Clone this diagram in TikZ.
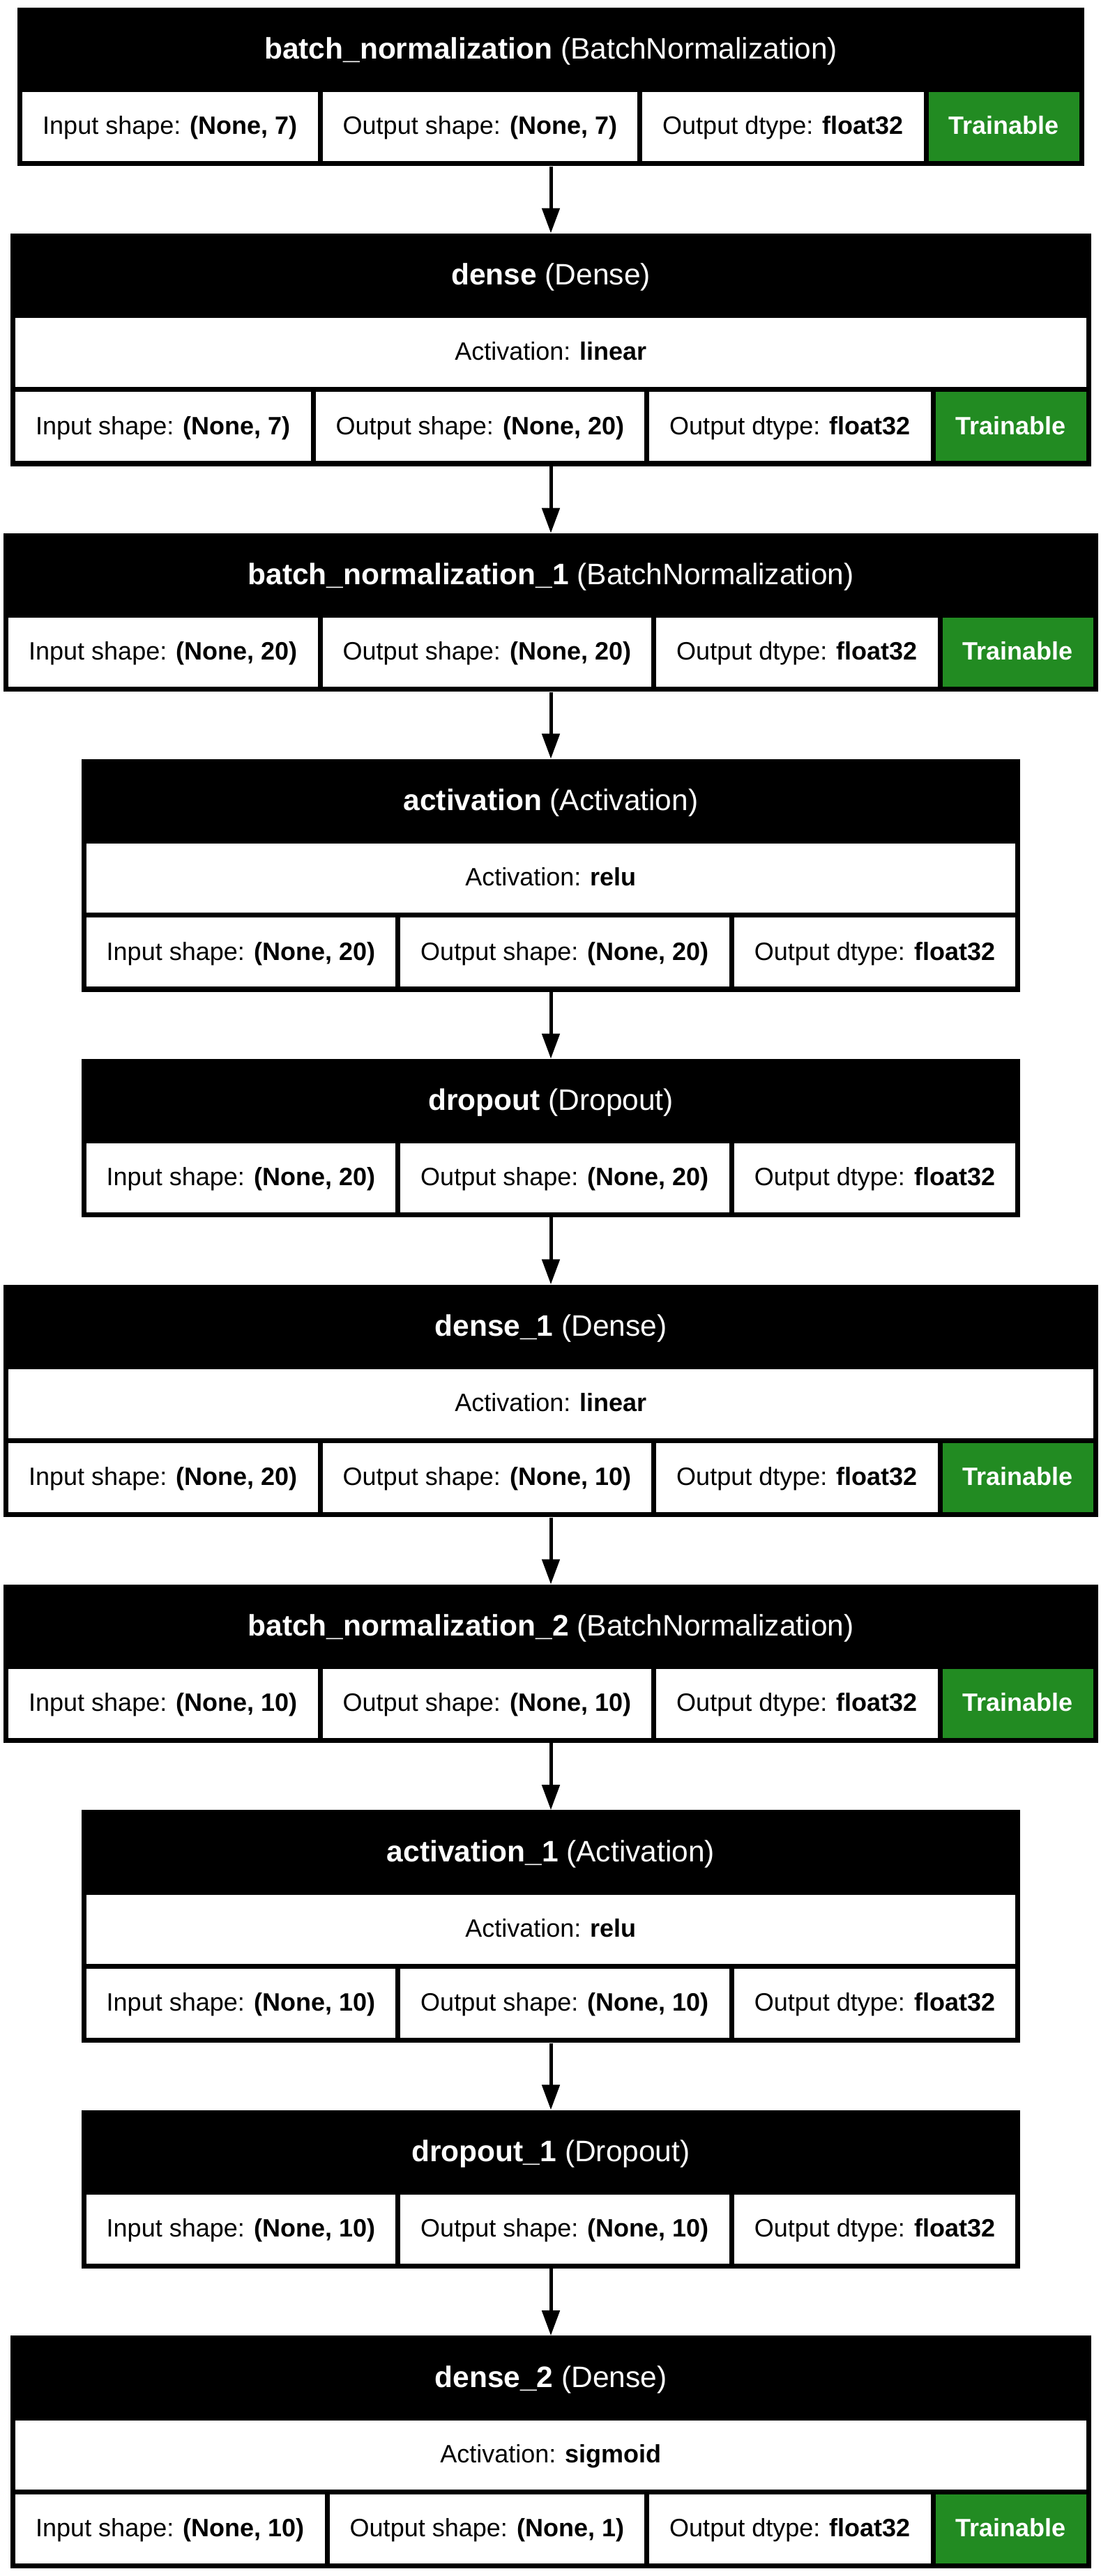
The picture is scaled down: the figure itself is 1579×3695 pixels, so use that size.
\documentclass[tikz,border=0pt]{standalone}
\usepackage{fontspec}
\setmainfont{Liberation Sans}
\usetikzlibrary{arrows.meta,calc,fit,backgrounds}
\definecolor{trainGreen}{RGB}{34,139,34}

\tikzset{
  cellfont/.style={font=\fontsize{36}{43}\selectfont},
  cell/.style={cellfont, fill=white, anchor=center, inner xsep=29pt, inner ysep=0pt,
    minimum height=99pt, text height=26pt, text depth=3.5pt},
  train/.style={cell, fill=trainGreen, text=white, font=\fontsize{36}{43}\selectfont\bfseries},
  cellrow/.style={matrix anchor=north, inner sep=0pt, column sep=7pt},
  frame/.style={fill=black, inner sep=0pt},
  actrow/.style={fill=white, inner sep=0pt},
  actlabel/.style={cellfont, inner sep=0pt, anchor=center, text height=26pt, text depth=3.5pt},
  title/.style={font=\fontsize{42.5}{51}\selectfont, text=white, inner sep=0pt,
    text height=31pt, text depth=5pt},
  flow/.style={line width=5pt, -{Triangle[length=36pt,width=25pt]}},
}

\begin{document}
\begin{tikzpicture}[x=1pt,y=-1pt]
\useasboundingbox (0,0) rectangle (1579,3695);
\begin{scope}[on background layer]
  \fill[white] (0,0) rectangle (1579,3695);
\end{scope}

% ---------- batch_normalization ----------
\matrix (L1r) [cellrow] at (790,132) {
  \node[cell] (L1a) {Input shape: \textbf{(None, 7)}}; &
  \node[cell] (L1b) {Output shape: \textbf{(None, 7)}}; &
  \node[cell] (L1c) {Output dtype: \textbf{float32}}; &
  \node[train] (L1d) {Trainable}; \\
};
\coordinate (L1nw) at ($(L1r.north west)+(-7,-121)$);
\coordinate (L1se) at ($(L1r.south east)+(7,7)$);
\begin{scope}[on background layer]
  \node[frame, fit=(L1nw)(L1se)] (L1) {};
\end{scope}
\node[title] (L1t) at ($(L1r.north)+(0,-60.5)$) {\textbf{batch\_normalization} (BatchNormalization)};

% ---------- dense ----------
\matrix (L2r) [cellrow] at (790,562.2) {
  \node[cell] (L2a) {Input shape: \textbf{(None, 7)}}; &
  \node[cell] (L2b) {Output shape: \textbf{(None, 20)}}; &
  \node[cell] (L2c) {Output dtype: \textbf{float32}}; &
  \node[train] (L2d) {Trainable}; \\
};
\coordinate (L2an) at ($(L2r.north west)+(0,-106)$);
\coordinate (L2as) at ($(L2r.north east)+(0,-7)$);
\node[actrow, fit=(L2an)(L2as)] (L2act) {};
\node[actlabel] (L2al) at ($(L2r.north)+(0,-56.5)$) {Activation: \textbf{linear}};
\coordinate (L2nw) at ($(L2r.north west)+(-7,-227.5)$);
\coordinate (L2se) at ($(L2r.south east)+(7,7)$);
\begin{scope}[on background layer]
  \node[frame, fit=(L2nw)(L2se)] (L2) {};
\end{scope}
\node[title] (L2t) at ($(L2r.north)+(0,-166.75)$) {\textbf{dense} (Dense)};

% ---------- batch_normalization_1 ----------
\matrix (L3r) [cellrow] at (790,885.9) {
  \node[cell] (L3a) {Input shape: \textbf{(None, 20)}}; &
  \node[cell] (L3b) {Output shape: \textbf{(None, 20)}}; &
  \node[cell] (L3c) {Output dtype: \textbf{float32}}; &
  \node[train] (L3d) {Trainable}; \\
};
\coordinate (L3nw) at ($(L3r.north west)+(-7,-121)$);
\coordinate (L3se) at ($(L3r.south east)+(7,7)$);
\begin{scope}[on background layer]
  \node[frame, fit=(L3nw)(L3se)] (L3) {};
\end{scope}
\node[title] (L3t) at ($(L3r.north)+(0,-60.5)$) {\textbf{batch\_normalization\_1} (BatchNormalization)};

% ---------- activation ----------
\matrix (L4r) [cellrow] at (790,1316.1) {
  \node[cell] (L4a) {Input shape: \textbf{(None, 20)}}; &
  \node[cell] (L4b) {Output shape: \textbf{(None, 20)}}; &
  \node[cell] (L4c) {Output dtype: \textbf{float32}}; \\
};
\coordinate (L4an) at ($(L4r.north west)+(0,-106)$);
\coordinate (L4as) at ($(L4r.north east)+(0,-7)$);
\node[actrow, fit=(L4an)(L4as)] (L4act) {};
\node[actlabel] (L4al) at ($(L4r.north)+(0,-56.5)$) {Activation: \textbf{relu}};
\coordinate (L4nw) at ($(L4r.north west)+(-7,-227.5)$);
\coordinate (L4se) at ($(L4r.south east)+(7,7)$);
\begin{scope}[on background layer]
  \node[frame, fit=(L4nw)(L4se)] (L4) {};
\end{scope}
\node[title] (L4t) at ($(L4r.north)+(0,-166.75)$) {\textbf{activation} (Activation)};

% ---------- dropout ----------
\matrix (L5r) [cellrow] at (790,1639.8) {
  \node[cell] (L5a) {Input shape: \textbf{(None, 20)}}; &
  \node[cell] (L5b) {Output shape: \textbf{(None, 20)}}; &
  \node[cell] (L5c) {Output dtype: \textbf{float32}}; \\
};
\coordinate (L5nw) at ($(L5r.north west)+(-7,-121)$);
\coordinate (L5se) at ($(L5r.south east)+(7,7)$);
\begin{scope}[on background layer]
  \node[frame, fit=(L5nw)(L5se)] (L5) {};
\end{scope}
\node[title] (L5t) at ($(L5r.north)+(0,-60.5)$) {\textbf{dropout} (Dropout)};

% ---------- dense_1 ----------
\matrix (L6r) [cellrow] at (790,2070) {
  \node[cell] (L6a) {Input shape: \textbf{(None, 20)}}; &
  \node[cell] (L6b) {Output shape: \textbf{(None, 10)}}; &
  \node[cell] (L6c) {Output dtype: \textbf{float32}}; &
  \node[train] (L6d) {Trainable}; \\
};
\coordinate (L6an) at ($(L6r.north west)+(0,-106)$);
\coordinate (L6as) at ($(L6r.north east)+(0,-7)$);
\node[actrow, fit=(L6an)(L6as)] (L6act) {};
\node[actlabel] (L6al) at ($(L6r.north)+(0,-56.5)$) {Activation: \textbf{linear}};
\coordinate (L6nw) at ($(L6r.north west)+(-7,-227.5)$);
\coordinate (L6se) at ($(L6r.south east)+(7,7)$);
\begin{scope}[on background layer]
  \node[frame, fit=(L6nw)(L6se)] (L6) {};
\end{scope}
\node[title] (L6t) at ($(L6r.north)+(0,-166.75)$) {\textbf{dense\_1} (Dense)};

% ---------- batch_normalization_2 ----------
\matrix (L7r) [cellrow] at (790,2393.7) {
  \node[cell] (L7a) {Input shape: \textbf{(None, 10)}}; &
  \node[cell] (L7b) {Output shape: \textbf{(None, 10)}}; &
  \node[cell] (L7c) {Output dtype: \textbf{float32}}; &
  \node[train] (L7d) {Trainable}; \\
};
\coordinate (L7nw) at ($(L7r.north west)+(-7,-121)$);
\coordinate (L7se) at ($(L7r.south east)+(7,7)$);
\begin{scope}[on background layer]
  \node[frame, fit=(L7nw)(L7se)] (L7) {};
\end{scope}
\node[title] (L7t) at ($(L7r.north)+(0,-60.5)$) {\textbf{batch\_normalization\_2} (BatchNormalization)};

% ---------- activation_1 ----------
\matrix (L8r) [cellrow] at (790,2823.9) {
  \node[cell] (L8a) {Input shape: \textbf{(None, 10)}}; &
  \node[cell] (L8b) {Output shape: \textbf{(None, 10)}}; &
  \node[cell] (L8c) {Output dtype: \textbf{float32}}; \\
};
\coordinate (L8an) at ($(L8r.north west)+(0,-106)$);
\coordinate (L8as) at ($(L8r.north east)+(0,-7)$);
\node[actrow, fit=(L8an)(L8as)] (L8act) {};
\node[actlabel] (L8al) at ($(L8r.north)+(0,-56.5)$) {Activation: \textbf{relu}};
\coordinate (L8nw) at ($(L8r.north west)+(-7,-227.5)$);
\coordinate (L8se) at ($(L8r.south east)+(7,7)$);
\begin{scope}[on background layer]
  \node[frame, fit=(L8nw)(L8se)] (L8) {};
\end{scope}
\node[title] (L8t) at ($(L8r.north)+(0,-166.75)$) {\textbf{activation\_1} (Activation)};

% ---------- dropout_1 ----------
\matrix (L9r) [cellrow] at (790,3147.6) {
  \node[cell] (L9a) {Input shape: \textbf{(None, 10)}}; &
  \node[cell] (L9b) {Output shape: \textbf{(None, 10)}}; &
  \node[cell] (L9c) {Output dtype: \textbf{float32}}; \\
};
\coordinate (L9nw) at ($(L9r.north west)+(-7,-121)$);
\coordinate (L9se) at ($(L9r.south east)+(7,7)$);
\begin{scope}[on background layer]
  \node[frame, fit=(L9nw)(L9se)] (L9) {};
\end{scope}
\node[title] (L9t) at ($(L9r.north)+(0,-60.5)$) {\textbf{dropout\_1} (Dropout)};

% ---------- dense_2 ----------
\matrix (L10r) [cellrow] at (790,3577.8) {
  \node[cell] (L10a) {Input shape: \textbf{(None, 10)}}; &
  \node[cell] (L10b) {Output shape: \textbf{(None, 1)}}; &
  \node[cell] (L10c) {Output dtype: \textbf{float32}}; &
  \node[train] (L10d) {Trainable}; \\
};
\coordinate (L10an) at ($(L10r.north west)+(0,-106)$);
\coordinate (L10as) at ($(L10r.north east)+(0,-7)$);
\node[actrow, fit=(L10an)(L10as)] (L10act) {};
\node[actlabel] (L10al) at ($(L10r.north)+(0,-56.5)$) {Activation: \textbf{sigmoid}};
\coordinate (L10nw) at ($(L10r.north west)+(-7,-227.5)$);
\coordinate (L10se) at ($(L10r.south east)+(7,7)$);
\begin{scope}[on background layer]
  \node[frame, fit=(L10nw)(L10se)] (L10) {};
\end{scope}
\node[title] (L10t) at ($(L10r.north)+(0,-166.75)$) {\textbf{dense\_2} (Dense)};

% ---------- connectors ----------
\draw[flow] (L1.south) -- (L2.north);
\draw[flow] (L2.south) -- (L3.north);
\draw[flow] (L3.south) -- (L4.north);
\draw[flow] (L4.south) -- (L5.north);
\draw[flow] (L5.south) -- (L6.north);
\draw[flow] (L6.south) -- (L7.north);
\draw[flow] (L7.south) -- (L8.north);
\draw[flow] (L8.south) -- (L9.north);
\draw[flow] (L9.south) -- (L10.north);
\end{tikzpicture}
\end{document}
